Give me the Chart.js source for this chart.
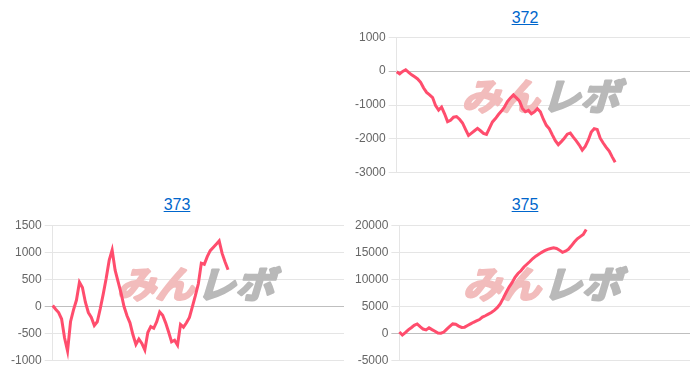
<!DOCTYPE html>
<html>
<head>
<meta charset="utf-8">
<script src="https://cdn.jsdelivr.net/npm/chart.js@4"></script>
<style>
  html, body { margin: 0; padding: 0; background: #fff; }
  body { width: 700px; height: 376px; position: relative; overflow: hidden; font-family: "Liberation Sans", Arial, sans-serif; }
  .title { position: absolute; width: 350px; height: 20px; line-height: 20px; text-align: center; font-size: 16px; }
  .title a { color: #0066cc; text-decoration: underline; }
  .box { position: absolute; height: 156px; }
</style>
</head>
<body>
  <div class="title" style="left:350px; top:8px;"><a href="#">372</a></div>
  <div class="box" style="left:352px; top:27px; width:338px;"><canvas id="chart372"></canvas></div>

  <div class="title" style="left:2px; top:195px;"><a href="#">373</a></div>
  <div class="box" style="left:8px; top:215px; width:336px;"><canvas id="chart373"></canvas></div>

  <div class="title" style="left:350px; top:195px;"><a href="#">375</a></div>
  <div class="box" style="left:352px; top:215px; width:338px;"><canvas id="chart375"></canvas></div>

<script>
// Shared x axis: 99 slots, each series only fills the start of it
const slotCount = 99;
const slots = Array.from({ length: slotCount }, (_, i) => i + 1);

// Series values
const values372 = [
  -20, -80, -10, 40, -40, -110, -170, -230, -330, -500,
  -630, -700, -780, -1020, -1150, -1060, -1260, -1490, -1450, -1360,
  -1340, -1420, -1530, -1720, -1900, -1830, -1760, -1690, -1760, -1840,
  -1870, -1680, -1500, -1400, -1280, -1180, -1060, -900, -790, -700,
  -790, -880, -1100, -1200, -1160, -1260, -1200, -1110, -1200, -1420,
  -1600, -1700, -1880, -2050, -2170, -2080, -1980, -1860, -1830, -1950,
  -2060, -2180, -2330, -2220, -2040, -1800, -1700, -1720, -1980, -2120,
  -2250, -2360, -2530, -2690
];

const values373 = [
  20, -50, -110, -230, -580, -820, -280, -60, 120, 450,
  350, 80, -110, -200, -350, -280, -40, 230, 520, 850,
  1040, 670, 460, 250, 0, -170, -300, -520, -700, -600,
  -680, -800, -480, -370, -400, -280, -100, -160, -300, -470,
  -650, -620, -710, -330, -380, -300, -200, 0, 200, 420,
  800, 780, 920, 1030, 1090, 1150, 1210, 980, 820, 680
];

const values375 = [
  300, -250, 200, 700, 1100, 1550, 1800, 1300, 850, 700,
  1100, 750, 450, 100, 80, 300, 850, 1350, 1800, 1750,
  1400, 1150, 1200, 1500, 1800, 2100, 2350, 2600, 3050, 3300,
  3600, 3900, 4300, 4800, 5500, 6500, 7600, 8600, 9400, 10400,
  11100, 11600, 12300, 12800, 13300, 13850, 14300, 14650, 15000, 15300,
  15550, 15700, 15850, 15700, 15400, 15000, 15200, 15550, 16200, 16900,
  17500, 17900, 18300, 19200
];

// Y axis ranges: [min, max, step]
const range372 = [-3000, 1000, 1000];
const range373 = [-1000, 1500, 500];
const range375 = [-5000, 20000, 5000];

const LINE_COLOR = '#ff4d6d';

// Faded "みんレボ" mark behind the line
const watermark = {
  id: 'watermark',
  beforeDatasetsDraw(chart) {
    const { ctx, chartArea } = chart;
    const cx = (chartArea.left + chartArea.right) / 2;
    const cy = chartArea.top + chartArea.height * 0.43;
    ctx.save();
    ctx.translate(cx, cy);
    ctx.transform(1.05, 0, -0.3, 1, 0, 0);
    ctx.font = "bold 37px 'Noto Sans CJK JP'";
    ctx.textBaseline = 'middle';
    ctx.lineWidth = 2.5;
    ctx.lineJoin = 'round';
    ctx.textAlign = 'right';
    ctx.fillStyle = ctx.strokeStyle = '#f2bcbc';
    ctx.strokeText('みん', 0, 0);
    ctx.fillText('みん', 0, 0);
    ctx.textAlign = 'left';
    ctx.fillStyle = ctx.strokeStyle = '#b9b9b9';
    ctx.strokeText('レボ', 2, 0);
    ctx.fillText('レボ', 2, 0);
    ctx.restore();
  }
};

function makeChart(id, values, range) {
  const ctx = document.getElementById(id).getContext('2d');
  return new Chart(ctx, {
    type: 'line',
    data: {
      labels: slots,
      datasets: [{
        data: values,
        borderColor: LINE_COLOR,
        backgroundColor: LINE_COLOR,
        borderWidth: 3,
        pointRadius: 0,
        tension: 0,
        fill: false
      }]
    },
    options: {
      responsive: true,
      maintainAspectRatio: false,
      animation: false,
      layout: { padding: 0 },
      plugins: {
        legend: { display: false },
        tooltip: { enabled: false }
      },
      scales: {
        x: { display: false },
        y: {
          min: range[0],
          max: range[1],
          border: { display: true, color: 'rgba(0,0,0,0.1)' },
          grid: {
            tickLength: 8,
            color: c => c.tick && c.tick.value === 0 ? 'rgba(0,0,0,0.25)' : 'rgba(0,0,0,0.1)'
          },
          ticks: {
            stepSize: range[2],
            color: '#666',
            padding: 3,
            font: { size: 12, family: "'Liberation Sans', Arial, sans-serif" },
            callback: value => String(value)
          }
        }
      }
    },
    plugins: [watermark]
  });
}

makeChart('chart372', values372, range372);
makeChart('chart373', values373, range373);
makeChart('chart375', values375, range375);
</script>
</body>
</html>
